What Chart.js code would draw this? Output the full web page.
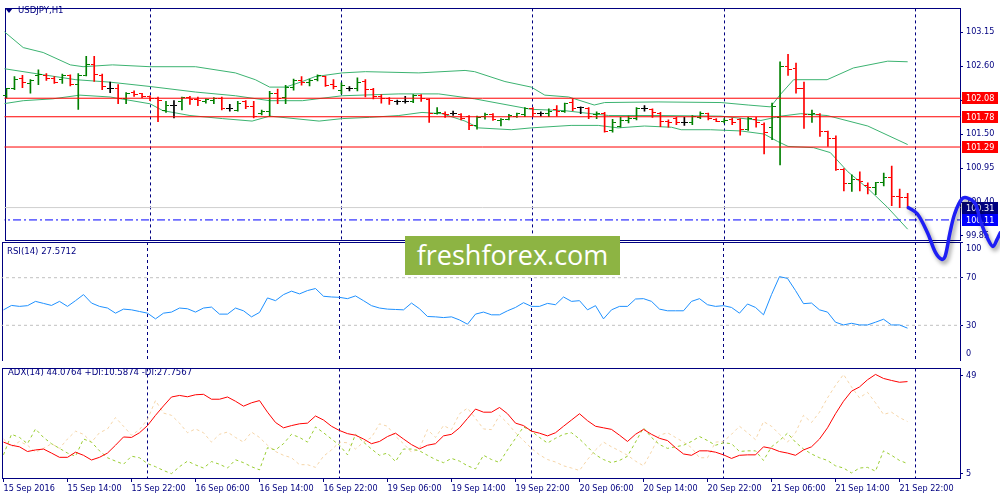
<!DOCTYPE html>
<html>
<head>
<meta charset="utf-8">
<script src="https://cdn.jsdelivr.net/npm/chart.js@4.4.1/dist/chart.umd.min.js"></script>
<style>
  body { margin: 0; background: #fff; width: 1000px; height: 500px; overflow: hidden; position: relative;
         font-family: 'DejaVu Sans Condensed', 'Liberation Sans', sans-serif; }
  canvas { position: absolute; left: 0; }
  .lbl { position: absolute; color: #000080; font-size: 9.5px; line-height: 12px; white-space: nowrap; z-index: 5; }
  #tri { position: absolute; left: 5px; top: 8px; width: 0; height: 0; z-index: 5;
         border-left: 4px solid transparent; border-right: 4px solid transparent; border-top: 5px solid #000080; }
  #logo { position: absolute; left: 405px; top: 236px; width: 215px; height: 39px; z-index: 10;
          background: #8db443; color: #fff; font-family: 'Open Sans', sans-serif; font-size: 27px;
          line-height: 38px; text-align: center; }
</style>
</head>
<body>
<canvas id="adx" width="1000" height="140" style="top:360px;z-index:1"></canvas>
<canvas id="rsi" width="1000" height="120" style="top:241px;z-index:2"></canvas>
<canvas id="price" width="1000" height="270" style="top:0px;z-index:3"></canvas>
<div id="tri"></div>
<div class="lbl" style="left:18px;top:4px">USDJPY,H1</div>
<div class="lbl" style="left:7px;top:245px">RSI(14) 27.5712</div>
<div class="lbl" style="left:8px;top:366px">ADX(14) 44.0764 +DI:10.5874 -DI:27.7567</div>
<div id="logo">freshforex.com</div>
<script>
// ---- data (hourly bars, 15 Sep 06:00 .. 21 Sep 23:00) ----
var opens = [102.12,102.24,102.40,102.32,102.44,102.45,102.40,102.38,102.44,102.31,
  102.45,102.62,102.45,102.24,102.24,102.07,102.17,102.15,102.10,102.07,
  101.88,101.97,102.02,102.09,102.06,102.03,102.04,102.07,101.91,101.88,
  102.02,101.95,101.83,101.86,102.16,102.09,102.25,102.36,102.33,102.39,
  102.43,102.31,102.21,102.24,102.23,102.35,102.22,102.10,102.07,102.02,
  102.03,102.03,102.12,102.06,101.83,101.84,101.83,101.81,101.78,101.64,
  101.78,101.81,101.72,101.74,101.79,101.82,101.92,101.83,101.84,101.89,
  101.87,102.01,101.93,101.92,101.81,101.84,101.56,101.63,101.72,101.75,
  101.91,101.90,101.84,101.71,101.75,101.68,101.68,101.77,101.83,101.74,
  101.70,101.73,101.73,101.58,101.74,101.66,101.60,101.77,102.59,102.56,
  102.23,101.81,101.82,101.54,101.42,100.92,100.70,100.76,100.67,100.63,
  100.71,100.80,100.49,100.47];
var highs = [102.24,102.43,102.45,102.38,102.54,102.48,102.43,102.47,102.46,102.48,
  102.76,102.76,102.47,102.34,102.30,102.17,102.20,102.16,102.12,102.10,
  102.03,102.04,102.10,102.11,102.10,102.07,102.09,102.10,101.98,102.03,
  102.04,102.03,101.89,102.19,102.23,102.29,102.39,102.43,102.39,102.46,
  102.44,102.38,102.33,102.27,102.41,102.38,102.24,102.14,102.09,102.05,
  102.11,102.14,102.14,102.07,101.93,101.86,101.87,101.83,101.80,101.79,
  101.84,101.83,101.75,101.82,101.84,101.93,101.93,101.86,101.91,101.96,
  102.00,102.07,101.94,101.93,101.86,101.85,101.74,101.77,101.79,101.93,
  101.96,101.91,101.85,101.73,101.77,101.77,101.80,101.86,101.84,101.75,
  101.75,101.76,101.75,101.77,101.77,101.68,102.00,102.67,102.79,102.65,
  102.34,101.89,101.83,101.55,101.47,100.94,100.84,100.89,100.71,100.72,
  100.87,100.98,100.61,100.54];
var lows = [102.08,102.22,102.25,102.16,102.30,102.37,102.32,102.32,102.28,101.90,
  102.44,102.35,102.22,102.17,101.99,101.99,102.11,102.09,102.04,101.70,
  101.85,101.76,101.89,101.98,101.96,102.00,101.99,101.89,101.87,101.87,
  101.91,101.76,101.81,101.79,101.99,101.99,102.21,102.29,102.28,102.36,
  102.27,102.23,102.15,102.20,102.20,102.10,102.07,102.00,101.98,101.98,
  102.00,102.01,102.03,101.69,101.82,101.77,101.80,101.73,101.57,101.58,
  101.74,101.72,101.63,101.73,101.77,101.78,101.79,101.79,101.78,101.79,
  101.85,101.88,101.83,101.75,101.75,101.53,101.53,101.61,101.68,101.73,
  101.87,101.77,101.62,101.61,101.65,101.64,101.65,101.75,101.73,101.70,
  101.68,101.65,101.48,101.56,101.61,101.18,101.41,101.00,102.45,102.16,
  101.59,101.69,101.46,101.30,100.91,100.58,100.57,100.58,100.53,100.52,
  100.66,100.34,100.31,100.29];
var closes = [102.23,102.38,102.33,102.36,102.47,102.40,102.33,102.44,102.31,102.45,
  102.62,102.46,102.27,102.24,102.07,102.15,102.14,102.11,102.07,102.04,
  101.96,101.97,102.09,102.06,102.04,102.06,102.07,101.91,101.91,102.00,
  101.94,101.79,101.87,102.16,102.08,102.26,102.36,102.33,102.37,102.44,
  102.28,102.27,102.29,102.24,102.34,102.22,102.10,102.07,102.05,102.02,
  102.03,102.12,102.07,101.84,101.85,101.82,101.83,101.75,101.64,101.77,
  101.82,101.73,101.74,101.80,101.83,101.92,101.83,101.83,101.87,101.86,
  101.99,101.92,101.93,101.78,101.84,101.54,101.69,101.72,101.75,101.91,
  101.91,101.85,101.70,101.69,101.68,101.68,101.78,101.83,101.75,101.71,
  101.72,101.69,101.58,101.75,101.69,101.52,101.94,102.59,102.55,102.23,
  101.81,101.83,101.54,101.42,100.92,100.70,100.76,100.73,100.64,100.71,
  100.80,100.49,100.47,100.31];

// Bollinger bands, read at sample bars
var upperIdx = [-0.4,2.1,4.6,8.0,9.6,13.3,18.0,23.7,28.7,31.2,33.0,35.0,37.1,38.7,42.1,45.0,51.7,57.5,58.7,62.5,
  65.8,67.5,70.5,73.7,75.0,81.7,89.6,93.0,95.8,97.1,98.7,102.9,106.2,110.5,113.0];
var upperVal = [103.17,102.90,102.82,102.62,102.59,102.62,102.59,102.59,102.49,102.38,102.26,102.26,102.35,102.43,102.49,102.51,102.49,102.53,102.51,102.35,
  102.26,102.13,102.10,101.97,102.01,102.02,102.01,101.97,101.94,102.15,102.38,102.38,102.57,102.68,102.67];
var midIdx = [-0.4,4.6,8.7,13.0,18.0,23.7,28.7,33.0,37.1,42.1,49.2,54.2,58.7,65.8,69.9,73.3,75.5,82.1,89.6,94.6,
  97.1,99.6,102.9,108.0,113.0];
var midVal = [102.56,102.46,102.38,102.34,102.27,102.18,102.12,102.04,102.04,102.12,102.15,102.15,102.07,101.90,101.88,101.83,101.80,101.80,101.79,101.72,
  101.79,101.83,101.80,101.63,101.33];
var lowerIdx = [-0.4,2.1,5.8,9.2,13.0,18.0,19.6,23.0,27.1,30.8,33.0,39.2,42.1,45.5,49.2,52.1,54.6,57.5,59.2,63.3,
  65.8,70.8,74.2,76.7,80.0,83.4,84.6,88.3,92.1,95.0,96.7,98.0,101.2,103.3,105.5,108.0,110.5,113.0];
var lowerVal = [101.99,102.04,102.07,102.13,102.10,101.99,101.88,101.80,101.75,101.71,101.79,101.71,101.75,101.77,101.80,101.85,101.83,101.71,101.60,101.57,
  101.60,101.64,101.64,101.60,101.63,101.61,101.57,101.57,101.55,101.50,101.38,101.30,101.28,101.20,100.89,100.62,100.31,99.96];

// horizontal levels on the price panel
var redLevels = [102.08, 101.78, 101.29];
var bidLevel = 100.31;
var targetLevel = 100.11;

// hand-drawn forecast stroke (bar index, price)
var sketchIdx = [113.1,114.2,115.5,116.5,117.3,117.7,118.3,118.9,119.8,120.6,121.5,122.1,123.1,123.7,124.2,124.6];
var sketchVal = [100.31,100.21,99.90,99.58,99.47,99.52,99.90,100.21,100.45,100.46,100.37,100.10,99.79,99.68,99.79,99.90];

var rsi = [43.0,46.7,45.9,46.5,50.1,48.4,46.7,50.1,45.9,50.7,
  55.8,48.7,45.9,44.5,40.2,43.6,43.0,41.6,40.2,35.4,
  40.2,41.1,44.5,43.9,41.1,44.5,45.3,39.4,39.4,44.5,
  42.2,37.1,40.8,53.0,50.7,55.8,58.7,56.4,59.2,60.9,
  54.4,53.8,53.5,52.4,54.7,50.7,46.5,44.5,43.6,43.3,
  43.0,48.7,43.9,37.4,37.1,36.5,37.1,34.5,30.9,39.4,
  41.1,38.8,38.8,42.2,45.0,49.0,45.9,45.9,48.4,47.3,
  53.8,50.1,50.7,43.0,46.5,35.4,43.0,45.9,45.9,52.1,
  52.4,50.1,43.6,42.2,42.2,42.2,50.1,52.4,47.3,45.9,
  46.5,45.0,40.2,47.9,45.0,38.8,55.8,70.9,69.4,59.2,
  48.2,48.7,43.0,41.1,32.6,30.3,31.7,30.3,30.3,32.6,
  35.1,30.3,30.3,27.6];
var rsiLevels = [70, 30];
var rsiTicks = [100, 70, 30, 0];

var adx = [19.1,17.7,17.0,14.9,15.6,16.0,14.2,12.3,12.3,14.6,
  13.2,11.1,12.3,14.2,17.7,21.4,21.2,23.3,26.5,31.1,
  35.3,39.3,40.0,39.4,40.3,40.5,38.3,38.3,39.3,37.4,
  35.2,36.7,37.7,32.5,27.9,25.5,26.5,27.3,27.6,30.8,
  29.0,26.2,24.3,22.9,22.2,20.5,18.4,19.4,21.6,23.1,
  20.5,18.0,16.1,17.7,18.4,21.9,22.6,25.5,29.7,33.9,
  32.5,32.5,34.6,31.8,27.6,26.5,24.0,23.1,21.9,23.3,
  26.2,29.0,31.8,28.7,26.2,25.5,24.8,22.2,19.4,22.6,
  24.8,22.6,20.8,19.8,16.6,13.8,13.2,15.2,15.2,14.6,
  13.4,11.8,13.2,13.4,13.4,17.0,16.3,14.9,14.2,13.2,
  15.6,17.0,20.5,25.5,31.8,37.4,41.9,43.8,47.0,49.4,
  47.6,46.7,45.9,46.2];
var plusDI = [13.4,22.6,21.2,18.4,25.0,21.2,18.4,16.3,14.2,12.8,
  20.5,19.1,15.2,12.1,10.6,9.2,12.8,12.1,9.5,8.1,
  6.4,5.0,8.1,10.6,8.9,7.5,10.4,9.2,7.5,11.2,
  9.9,8.1,6.7,16.6,15.6,18.4,22.6,21.2,19.1,25.9,
  23.3,20.5,17.7,13.4,22.6,19.1,16.0,13.2,14.2,10.4,
  16.0,16.0,15.2,13.2,11.3,9.9,11.8,10.6,8.5,7.1,
  13.2,11.3,10.0,15.6,20.8,25.9,24.0,21.2,18.7,20.8,
  22.6,23.3,20.5,17.0,13.4,11.3,9.9,10.9,12.8,19.1,
  25.5,21.2,18.0,16.3,17.0,17.7,19.4,21.6,19.8,17.7,
  18.8,18.4,14.9,15.2,15.2,10.9,17.0,19.8,23.1,19.1,
  16.0,13.8,12.1,10.9,8.5,7.5,5.3,7.5,7.8,6.1,
  15.2,13.2,10.9,9.5];
var minusDI = [20.5,17.0,19.4,17.7,14.6,16.3,18.4,16.3,20.5,24.0,
  22.6,19.1,23.3,25.0,30.1,26.2,22.2,24.7,29.3,37.7,
  32.1,31.1,27.6,23.3,25.0,23.3,19.1,22.6,23.6,21.2,
  19.1,23.6,21.2,17.7,14.9,13.2,12.1,9.0,9.0,7.8,
  12.8,15.6,19.1,18.8,16.0,19.1,21.2,27.3,26.2,21.7,
  18.4,14.6,16.3,24.7,21.2,26.5,24.7,31.8,34.3,29.7,
  25.0,24.7,31.1,27.6,23.3,19.8,16.3,13.4,11.3,10.2,
  8.5,7.5,6.4,11.3,15.6,19.1,17.0,15.2,13.2,10.6,
  8.5,14.9,22.2,23.3,21.2,19.1,16.6,12.1,12.1,19.1,
  19.4,22.6,26.2,23.3,20.2,28.3,26.2,22.6,19.1,23.3,
  31.1,27.9,32.5,38.9,44.5,49.4,43.8,38.9,41.4,36.7,
  31.5,32.5,30.1,28.3];
var adxTicks = [49, 5];

var priceTicks = [103.15, 102.60, 102.05, 101.50, 100.95, 100.40, 99.85];
var daySeps = [18, 42, 66, 90, 114];
var xTickIdx = [0, 8, 16, 24, 32, 40, 48, 56, 64, 72, 80, 88, 96, 104, 112];
var xTickLabels = ['15 Sep 2016', '15 Sep 14:00', '15 Sep 22:00', '16 Sep 06:00', '16 Sep 14:00',
  '16 Sep 22:00', '19 Sep 06:00', '19 Sep 14:00', '19 Sep 22:00', '20 Sep 06:00',
  '20 Sep 14:00', '20 Sep 22:00', '21 Sep 06:00', '21 Sep 14:00', '21 Sep 22:00'];

// ---- look ----
var NAVY = '#000080';
var UP = '#008000', DOWN = '#ff0000', FLAT = '#000000';
var FONT = "'DejaVu Sans Condensed', 'Liberation Sans', sans-serif";
var FSIZE = 9;
var X_MIN = -0.1875, X_MAX = 119.5625;

Chart.defaults.font.family = FONT;
Chart.defaults.font.size = FSIZE;
Chart.defaults.color = NAVY;
Chart.defaults.animation = false;
Chart.defaults.events = [];
Chart.defaults.plugins.legend.display = false;
Chart.defaults.plugins.tooltip.enabled = false;

function xy(xs, ys) {
    return xs.map(function (x, k) { return {x: x, y: ys[k]}; });
}
function series(vals) {
    return vals.map(function (v, i) { return {x: i, y: v}; });
}
function flat(v) {
    return [{x: X_MIN - 1, y: v}, {x: X_MAX + 1, y: v}];
}

// open tick sits left of the bar, close tick right of it
function tickImage(color, left) {
    var c = document.createElement('canvas');
    c.width = 7; c.height = 1;
    var g = c.getContext('2d');
    g.fillStyle = color;
    g.fillRect(left ? 0 : 4, 0, 3, 1);
    return c;
}
var openImg = {}, closeImg = {};
[UP, DOWN, FLAT].forEach(function (c) {
    openImg[c] = tickImage(c, true);
    closeImg[c] = tickImage(c, false);
});

var barColor = opens.map(function (o, i) {
    return closes[i] > o ? UP : (closes[i] < o ? DOWN : FLAT);
});

// range set after data limits so lines running past the edge are not trimmed
function xScale(show) {
    var s = {
        type: 'linear', bounds: 'data', offset: false, display: show,
        afterDataLimits: function (scale) { scale.min = X_MIN; scale.max = X_MAX; },
        afterBuildTicks: function (scale) {
            scale.ticks = xTickIdx.map(function (v) { return {value: v}; });
        },
        grid: {offset: false, drawOnChartArea: false, color: NAVY, tickLength: 4},
        border: {display: false}
    };
    if (show) {
        s.afterFit = function (scale) { scale.height = 22; };
        s.ticks = {
            align: 'start', maxRotation: 0, autoSkip: false, padding: 1, color: NAVY,
            callback: function (v, k) { return xTickLabels[k]; }
        };
    }
    return s;
}

function yScale(min, max, tickVals, showLabels, fmt) {
    return {
        type: 'linear', position: 'right', min: min, max: max,
        afterFit: function (scale) { scale.width = 40; },
        afterBuildTicks: function (scale) {
            scale.ticks = tickVals.map(function (v) { return {value: v}; });
        },
        grid: {drawOnChartArea: false, color: NAVY, tickLength: 3},
        border: {display: false},
        ticks: {display: showLabels, padding: 3, color: NAVY, autoSkip: false,
                callback: function (v) { return fmt ? v.toFixed(2) : String(v); }}
    };
}

// frame and day separators for every panel
var panelFrame = {
    id: 'panelFrame',
    beforeDatasetsDraw: function (chart) {
        var ctx = chart.ctx, a = chart.chartArea, x = chart.scales.x;
        ctx.save();
        ctx.strokeStyle = NAVY;
        ctx.lineWidth = 1;
        ctx.setLineDash([3, 3]);
        daySeps.forEach(function (d) {
            var px = Math.floor(x.getPixelForValue(d)) + 0.5;
            ctx.beginPath();
            ctx.moveTo(px, a.top);
            ctx.lineTo(px, a.bottom);
            ctx.stroke();
        });
        ctx.setLineDash([]);
        var l = Math.round(a.left), t = Math.round(a.top), r = Math.round(a.right), b = Math.round(a.bottom);
        ctx.strokeRect(l + 0.5, t + 0.5, r - l, b - t);
        ctx.restore();
    }
};

// coloured price tags on the right axis
function tag(ctx, y, bg, text) {
    ctx.fillStyle = bg;
    ctx.fillRect(962, Math.round(y) - 6, 36, 12);
    ctx.fillStyle = '#ffffff';
    ctx.textBaseline = 'middle';
    ctx.textAlign = 'left';
    ctx.fillText(text, 966, Math.round(y) + 0.5);
}
var priceTags = {
    id: 'priceTags',
    beforeDatasetsDraw: function (chart) {
        var ctx = chart.ctx, y = chart.scales.y;
        ctx.save();
        ctx.font = FSIZE + 'px ' + FONT;
        redLevels.forEach(function (v) { tag(ctx, y.getPixelForValue(v), '#ff0000', v.toFixed(2)); });
        tag(ctx, y.getPixelForValue(bidLevel), NAVY, bidLevel.toFixed(2));
        tag(ctx, y.getPixelForValue(targetLevel), '#0000ff', targetLevel.toFixed(2));
        ctx.restore();
    }
};

var sketchShadow = {
    id: 'sketchShadow',
    beforeDatasetDraw: function (chart, args) {
        if (chart.data.datasets[args.index].label !== 'sketch') return;
        var ctx = chart.ctx;
        ctx.save();
        ctx.shadowColor = 'rgba(0,0,0,0.4)';
        ctx.shadowBlur = 4;
        ctx.shadowOffsetX = 2;
        ctx.shadowOffsetY = 3;
    },
    afterDatasetDraw: function (chart, args) {
        if (chart.data.datasets[args.index].label !== 'sketch') return;
        chart.ctx.restore();
    }
};

// RSI labels sit just inside the panel at 100 and 0
var rsiLabels = {
    id: 'rsiLabels',
    afterDraw: function (chart) {
        var ctx = chart.ctx, a = chart.chartArea, y = chart.scales.y;
        ctx.save();
        ctx.font = FSIZE + 'px ' + FONT;
        ctx.fillStyle = NAVY;
        ctx.textBaseline = 'middle';
        ctx.textAlign = 'left';
        rsiTicks.forEach(function (v) {
            var py = Math.min(Math.max(y.getPixelForValue(v), a.top + 7), a.bottom - 7);
            ctx.fillText(String(v), 966, py);
        });
        ctx.restore();
    }
};

var idx = opens.map(function (o, i) { return i; });
var lineBase = {type: 'line', pointRadius: 0, borderWidth: 1, tension: 0, fill: false};

// ---- price panel ----
new Chart(document.getElementById('price'), {
    type: 'bar',
    data: {
        datasets: [
            Object.assign({}, lineBase, {
                label: 'sketch', data: xy(sketchIdx, sketchVal), borderColor: '#1f1ff5',
                borderWidth: 3.5, tension: 0.35, clip: false, order: 0,
                borderCapStyle: 'round', borderJoinStyle: 'round'
            }),
            Object.assign({}, lineBase, {label: 'r1', data: flat(redLevels[0]), borderColor: '#ff0000', order: 1}),
            Object.assign({}, lineBase, {label: 'r2', data: flat(redLevels[1]), borderColor: '#ff0000', order: 1}),
            Object.assign({}, lineBase, {label: 'r3', data: flat(redLevels[2]), borderColor: '#ff0000', order: 1}),
            Object.assign({}, lineBase, {label: 'target', data: flat(targetLevel), borderColor: '#0000ff',
                borderDash: [8, 3, 2, 3], order: 1}),
            Object.assign({}, lineBase, {label: 'bid', data: flat(bidLevel), borderColor: '#cfcfcf', order: 5}),
            {
                type: 'line', label: 'open', showLine: false, order: 2,
                data: series(opens), pointRadius: 2,
                pointStyle: barColor.map(function (c) { return openImg[c]; })
            },
            {
                type: 'line', label: 'close', showLine: false, order: 2,
                data: series(closes), pointRadius: 2,
                pointStyle: barColor.map(function (c) { return closeImg[c]; })
            },
            {
                type: 'bar', label: 'range', order: 3,
                data: idx.map(function (i) { return {x: i, y: [lows[i], highs[i]]}; }),
                backgroundColor: barColor, barThickness: 1, borderWidth: 0, grouped: false
            },
            Object.assign({}, lineBase, {label: 'upper', data: xy(upperIdx, upperVal), borderColor: '#3cb371', order: 4}),
            Object.assign({}, lineBase, {label: 'mid', data: xy(midIdx, midVal), borderColor: '#3cb371', order: 4}),
            Object.assign({}, lineBase, {label: 'lower', data: xy(lowerIdx, lowerVal), borderColor: '#3cb371', order: 4})
        ]
    },
    options: {
        responsive: false,
        layout: {padding: {left: 2, top: 2, right: 0, bottom: 30}},
        scales: {
            x: xScale(false),
            y: yScale(99.785, 103.534, priceTicks, true, true)
        }
    },
    plugins: [panelFrame, priceTags, sketchShadow]
});

// ---- RSI panel ----
new Chart(document.getElementById('rsi'), {
    type: 'line',
    data: {
        datasets: [
            Object.assign({}, lineBase, {label: 'rsi', data: series(rsi), borderColor: '#1e90ff', order: 0}),
            Object.assign({}, lineBase, {label: 'l70', data: flat(rsiLevels[0]), borderColor: '#c0c0c0',
                borderDash: [3, 3], order: 1}),
            Object.assign({}, lineBase, {label: 'l30', data: flat(rsiLevels[1]), borderColor: '#c0c0c0',
                borderDash: [3, 3], order: 1})
        ]
    },
    options: {
        responsive: false,
        layout: {padding: {left: 2, top: 1, right: 0, bottom: 0}},
        scales: {
            x: xScale(false),
            y: yScale(0, 100, rsiTicks, false, false)
        }
    },
    plugins: [panelFrame, rsiLabels]
});

// ---- ADX panel ----
new Chart(document.getElementById('adx'), {
    type: 'line',
    data: {
        datasets: [
            Object.assign({}, lineBase, {label: 'adx', data: series(adx), borderColor: '#ff0000', order: 0}),
            Object.assign({}, lineBase, {label: '+di', data: series(plusDI), borderColor: '#9acd32',
                borderDash: [3, 3], order: 1}),
            Object.assign({}, lineBase, {label: '-di', data: series(minusDI), borderColor: '#f5d5a8',
                borderDash: [3, 3], order: 2})
        ]
    },
    options: {
        responsive: false,
        layout: {padding: {left: 2, top: 2, right: 0, bottom: 0}},
        scales: {
            x: xScale(true),
            y: yScale(3.04, 52.10, adxTicks, true, false)
        }
    },
    plugins: [panelFrame]
});
</script>
</body>
</html>
